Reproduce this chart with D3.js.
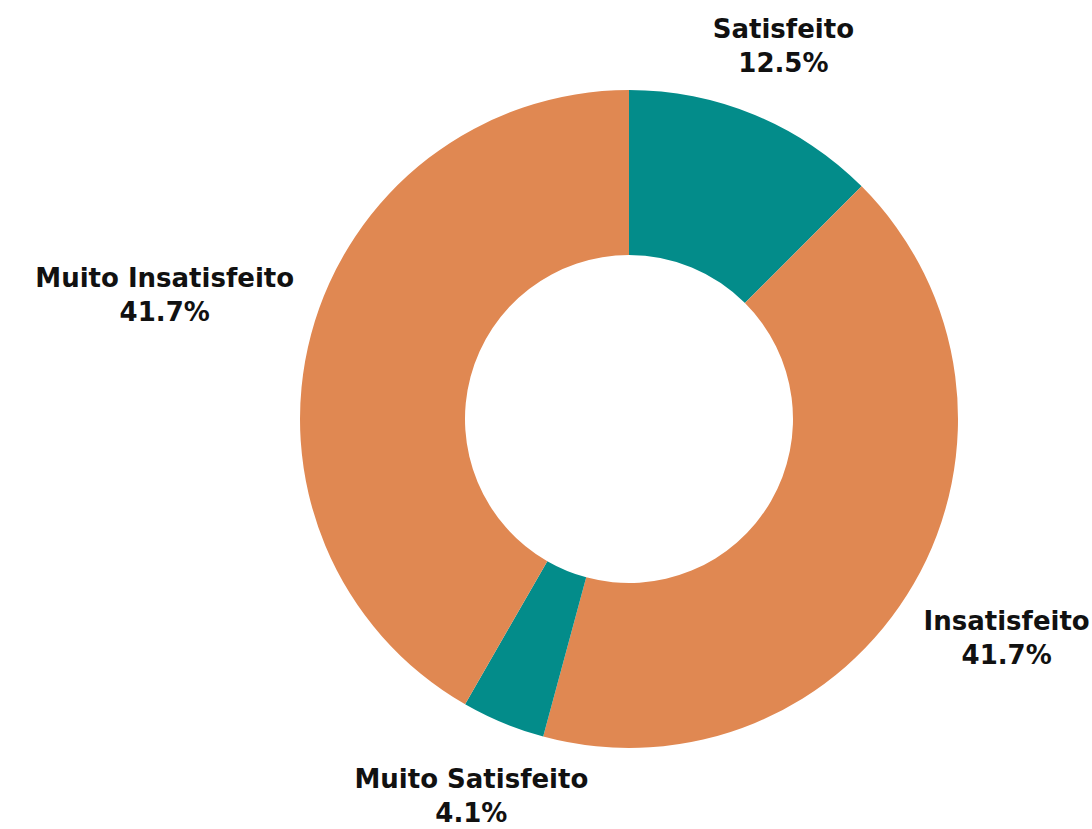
<!DOCTYPE html>
<html>
<head>
<meta charset="utf-8">
<script src="https://cdn.jsdelivr.net/npm/d3@7"></script>
<style>
  body { margin: 0; background: #fff; }
  text { font-family: "DejaVu Sans", sans-serif; font-weight: bold; }
</style>
</head>
<body>
<div id="chart"></div>
<script>
var categories = ["Satisfeito", "Insatisfeito", "Muito Satisfeito", "Muito Insatisfeito"];
var values = [12.5, 41.7, 4.1, 41.7];
var pctLabels = ["12.5%", "41.7%", "4.1%", "41.7%"];
var colors = ["#038c8a", "#e08852", "#038c8a", "#e08852"];

var w = 1092, h = 829;
var cx = 629, cy = 419;
var outerR = 329, innerR = 164;
var cornerR = 346;   // nearest corner of each label box sits on this circle
var halfH = 37;

var svg = d3.select("#chart")
    .append("svg")
    .attr("width", w)
    .attr("height", h);

var data = categories.map(function (c, i) {
    return { name: c, value: values[i], pct: pctLabels[i], color: colors[i] };
});

var pie = d3.pie()
    .sort(null)
    .value(function (d) { return d.value; });

var arc = d3.arc()
    .innerRadius(innerR)
    .outerRadius(outerR);

var g = svg.append("g")
    .attr("transform", "translate(" + cx + "," + cy + ")");

var arcs = pie(data);

g.selectAll("path")
    .data(arcs)
    .enter()
    .append("path")
    .attr("d", arc)
    .attr("fill", function (d) { return d.data.color; });

var labels = g.selectAll(".lbl")
    .data(arcs)
    .enter()
    .append("text")
    .attr("class", "lbl")
    .attr("text-anchor", "middle")
    .style("font-size", "26px")
    .attr("fill", "#111");

labels.append("tspan")
    .attr("x", 0)
    .attr("y", -8)
    .text(function (d) { return d.data.name; });

labels.append("tspan")
    .attr("x", 0)
    .attr("y", 26)
    .text(function (d) { return d.data.pct; });

// slide each box out along the slice direction until its nearest corner hits cornerR
labels.attr("transform", function (d) {
    var a = (d.startAngle + d.endAngle) / 2;
    var bb = this.getBBox();
    var halfW = bb.width / 2;
    var s = Math.sin(a), c = -Math.cos(a);
    var lo = 0, hi = 1000;
    for (var k = 0; k < 60; k++) {
        var t = (lo + hi) / 2;
        var dx = Math.max(0, Math.abs(s * t) - halfW);
        var dy = Math.max(0, Math.abs(c * t) - halfH);
        if (Math.sqrt(dx * dx + dy * dy) < cornerR) lo = t; else hi = t;
    }
    var x = s * lo, y = c * lo;
    // keep the text inside the picture
    var bottom = cy + y + bb.y + bb.height;
    if (bottom > h - 1) y -= bottom - (h - 1);
    var top = cy + y + bb.y;
    if (top < 1) y += 1 - top;
    return "translate(" + x + "," + y + ")";
});
</script>
</body>
</html>
